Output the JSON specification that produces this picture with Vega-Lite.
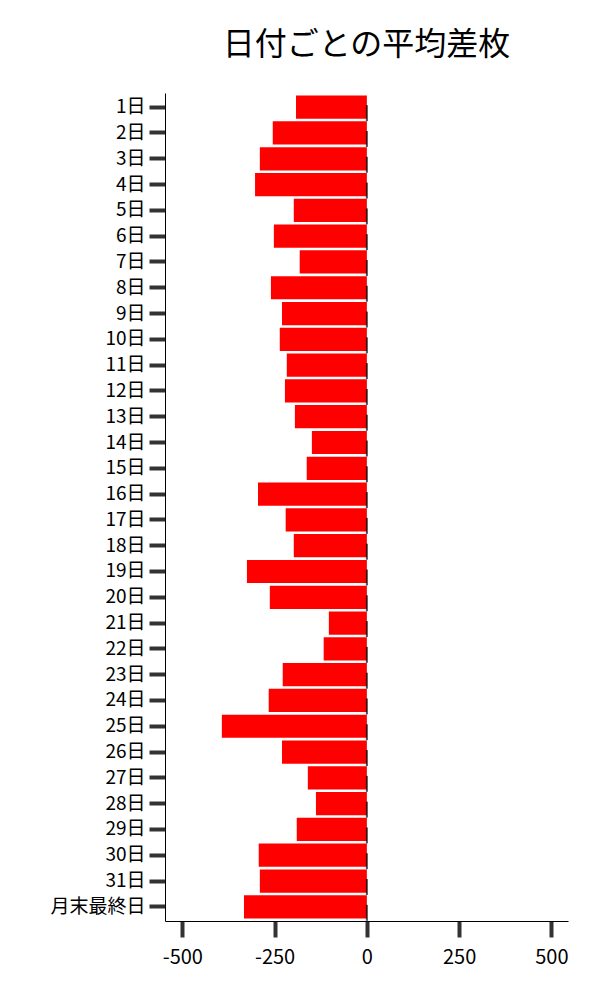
{
  "$schema": "https://vega.github.io/schema/vega-lite/v6.json",
  "autosize": {"type": "none"},
  "padding": {"left": 165, "top": 93, "right": 32, "bottom": 79},
  "width": 403,
  "height": 828,
  "background": "white",
  "title": {
    "text": "日付ごとの平均差枚",
    "font": "Noto Sans CJK JP",
    "fontSize": 32,
    "fontWeight": "normal",
    "color": "black",
    "offset": 31
  },
  "config": {
    "view": {"stroke": null},
    "axis": {
      "labelFont": "Noto Sans CJK JP",
      "labelColor": "black",
      "domainColor": "black",
      "domainWidth": 1,
      "tickColor": "#333333",
      "tickWidth": 4,
      "tickSize": 16,
      "grid": false,
      "title": null
    }
  },
  "data": {
    "values": [
      {"day": "1日", "diff": -192},
      {"day": "2日", "diff": -255},
      {"day": "3日", "diff": -290},
      {"day": "4日", "diff": -303},
      {"day": "5日", "diff": -198},
      {"day": "6日", "diff": -252},
      {"day": "7日", "diff": -182},
      {"day": "8日", "diff": -260},
      {"day": "9日", "diff": -230},
      {"day": "10日", "diff": -236},
      {"day": "11日", "diff": -217},
      {"day": "12日", "diff": -222},
      {"day": "13日", "diff": -195},
      {"day": "14日", "diff": -149},
      {"day": "15日", "diff": -163},
      {"day": "16日", "diff": -295},
      {"day": "17日", "diff": -220},
      {"day": "18日", "diff": -198},
      {"day": "19日", "diff": -325},
      {"day": "20日", "diff": -263},
      {"day": "21日", "diff": -103},
      {"day": "22日", "diff": -117},
      {"day": "23日", "diff": -228},
      {"day": "24日", "diff": -266},
      {"day": "25日", "diff": -393},
      {"day": "26日", "diff": -230},
      {"day": "27日", "diff": -160},
      {"day": "28日", "diff": -138},
      {"day": "29日", "diff": -190},
      {"day": "30日", "diff": -293},
      {"day": "31日", "diff": -290},
      {"day": "月末最終日", "diff": -333}
    ]
  },
  "encoding": {
    "y": {
      "field": "day",
      "type": "nominal",
      "sort": null,
      "scale": {"paddingInner": 0.1, "paddingOuter": 0.1},
      "axis": {"labelFontSize": 19, "labelPadding": 4, "domain": true}
    }
  },
  "layer": [
    {
      "mark": {"type": "bar", "color": "#ff0000"},
      "encoding": {
        "x": {
          "field": "diff",
          "type": "quantitative",
          "scale": {"domain": [-547, 545], "nice": false, "zero": false},
          "axis": {
            "values": [-500, -250, 0, 250, 500],
            "labelExpr": "'' + datum.value",
            "labelFontSize": 20,
            "labelPadding": 10
          }
        }
      }
    },
    {
      "mark": {"type": "tick", "color": "black", "thickness": 2, "size": 16, "yOffset": 6},
      "encoding": {
        "x": {"datum": 0, "type": "quantitative"}
      }
    }
  ]
}
